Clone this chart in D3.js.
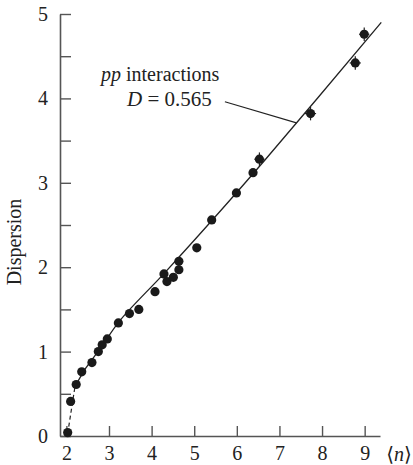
<!DOCTYPE html>
<html>
<head>
  <meta charset="UTF-8">
  <title>Dispersion vs mean multiplicity</title>
  <script src="https://cdnjs.cloudflare.com/ajax/libs/d3/7.8.5/d3.min.js"></script>
  <style type="text/css">
    body { margin: 0; background: #fff; }
    svg text { font-family: "Liberation Serif", "DejaVu Serif", serif; fill: #222; }
  </style>
</head>
<body>
  <script type="text/javascript">

    // mean multiplicity <n> and dispersion D
    var meanN = [2.03, 2.10, 2.23, 2.36, 2.60, 2.75, 2.84, 2.96, 3.22, 3.48, 3.70,
                 4.08, 4.29, 4.36, 4.51, 4.64, 4.64, 5.06, 5.41, 5.99, 6.38,
                 6.53, 7.73, 8.78, 8.99];
    var dispersion = [0.04, 0.41, 0.61, 0.76, 0.87, 1.00, 1.08, 1.15, 1.34, 1.45, 1.50,
                      1.71, 1.92, 1.83, 1.88, 1.97, 2.07, 2.23, 2.56, 2.88, 3.12,
                      3.28, 3.82, 4.42, 4.76];
    // error bars only on the high energy points (index into arrays above)
    var errIndex = [21, 22, 23, 24];
    var errN = [0.12, 0.13, 0.13, 0.12];
    var errD = [0.08, 0.08, 0.08, 0.08];

    // fitted curve (dashed part at the low end, solid part above)
    var fitDashed = [[2.03, 0.03], [2.20, 0.58]];
    var fitSolid = [[2.20, 0.58], [2.45, 0.80], [2.80, 1.04], [3.26, 1.37],
                    [4.30, 1.93], [5.41, 2.55], [6.66, 3.27], [9.39, 4.90]];
    // leader line from the label to the fit
    var leader = [[5.72, 3.96], [7.40, 3.71]];

    var xTicks = [2, 3, 4, 5, 6, 7, 8, 9];
    var yTicks = [0, 0.5, 1, 1.5, 2, 2.5, 3, 3.5, 4, 4.5, 5];

    var width = 413, height = 465;

    var x = d3.scaleLinear().domain([1.85, 9.36]).range([60, 380]);
    var y = d3.scaleLinear().domain([0, 5]).range([436, 14]);

    var svg = d3.select("body").append("svg")
        .attr("width", width)
        .attr("height", height);

    // axes, ticks pointing inwards
    var xAxis = d3.axisBottom(x)
        .tickValues(xTicks)
        .tickSizeInner(-10)
        .tickSizeOuter(0)
        .tickPadding(10)
        .tickFormat(d3.format("d"));

    var yAxis = d3.axisLeft(y)
        .tickValues(yTicks)
        .tickSizeInner(-11)
        .tickSizeOuter(0)
        .tickPadding(12)
        .tickFormat(function (d) { return d % 1 === 0 ? d : ""; });

    var gx = svg.append("g")
        .attr("transform", "translate(0," + y(0) + ")")
        .call(xAxis);

    var gy = svg.append("g")
        .attr("transform", "translate(" + x.range()[0] + ",0)")
        .call(yAxis);

    [gx, gy].forEach(function (g) {
      g.select(".domain").attr("stroke", "#555").attr("stroke-width", 1.6);
      g.selectAll(".tick line").attr("stroke", "#555").attr("stroke-width", 1.4);
      g.selectAll(".tick text")
        .style("font-family", "'Liberation Serif', serif")
        .style("font-size", "20px")
        .attr("fill", "#222");
    });

    // axis titles
    svg.append("text")
        .attr("transform", "translate(21,242) rotate(-90)")
        .attr("text-anchor", "middle")
        .style("font-size", "20px")
        .text("Dispersion");

    var xt = svg.append("text")
        .attr("x", 399)
        .attr("y", 461)
        .attr("text-anchor", "middle")
        .style("font-size", "20px");
    xt.append("tspan").text("\u27E8");
    xt.append("tspan").style("font-style", "italic").text("n");
    xt.append("tspan").text("\u27E9");

    // annotation
    var t1 = svg.append("text")
        .attr("x", 101)
        .attr("y", 81)
        .style("font-size", "20px");
    t1.append("tspan").style("font-style", "italic").text("pp");
    t1.append("tspan").text(" interactions");

    var t2 = svg.append("text")
        .attr("x", 127)
        .attr("y", 106)
        .style("font-size", "21px");
    t2.append("tspan").style("font-style", "italic").text("D");
    t2.append("tspan").text(" = 0.565");

    var line = d3.line()
        .x(function (d) { return x(d[0]); })
        .y(function (d) { return y(d[1]); });

    svg.append("path")
        .attr("d", line(leader))
        .attr("fill", "none")
        .attr("stroke", "#222")
        .attr("stroke-width", 1.1);

    svg.append("path")
        .attr("d", line(fitDashed))
        .attr("fill", "none")
        .attr("stroke", "#222")
        .attr("stroke-width", 1.2)
        .attr("stroke-dasharray", "4,3");

    svg.append("path")
        .attr("d", line.curve(d3.curveCatmullRom)(fitSolid))
        .attr("fill", "none")
        .attr("stroke", "#222")
        .attr("stroke-width", 1.3);

    // error bars
    errIndex.forEach(function (k, j) {
      var g = svg.append("g").attr("stroke", "#222").attr("stroke-width", 1.2);
      g.append("line")
          .attr("x1", x(meanN[k] - errN[j])).attr("x2", x(meanN[k] + errN[j]))
          .attr("y1", y(dispersion[k])).attr("y2", y(dispersion[k]));
      g.append("line")
          .attr("x1", x(meanN[k])).attr("x2", x(meanN[k]))
          .attr("y1", y(dispersion[k] - errD[j])).attr("y2", y(dispersion[k] + errD[j]));
    });

    // points
    svg.append("g").selectAll("circle")
        .data(meanN)
        .enter().append("circle")
          .attr("cx", function (d) { return x(d); })
          .attr("cy", function (d, i) { return y(dispersion[i]); })
          .attr("r", 4.6)
          .attr("fill", "#1a1a1a");

  </script>
</body>
</html>
